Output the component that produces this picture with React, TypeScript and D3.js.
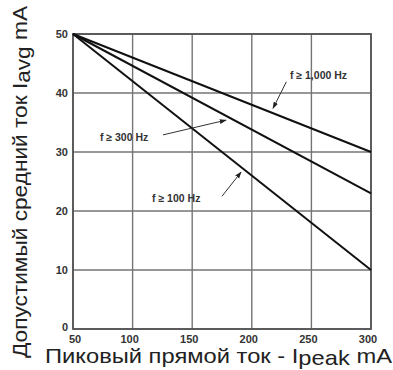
import React from "react";
import * as d3 from "d3";

const xTicks = [50, 100, 150, 200, 250, 300];
const yTicks = [0, 10, 20, 30, 40, 50];
const peakCurrent = [50, 300];
const seriesNames = ["f ≥ 1,000 Hz", "f ≥ 300 Hz", "f ≥ 100 Hz"];
const avgF1000 = [50, 30];
const avgF300 = [50, 23];
const avgF100 = [50, 10];

// annotation anchors in data units: [labelX, labelY, arrowFromX, arrowFromY, arrowToX, arrowToY]
const annotations: number[][] = [
  [232, 42.4, 229, 41.9, 217.8, 37.4],
  [72.6, 31.9, 125.5, 32.9, 178.4, 35.4],
  [116.3, 21.5, 175, 22.5, 191, 26.6],
];

export default function App() {
  const W = 393, H = 370;
  const x = d3.scaleLinear().domain([50, 300]).range([73, 371]);
  const y = d3.scaleLinear().domain([0, 50]).range([329, 34]);
  const series = [avgF1000, avgF300, avgF100];
  const line = d3
    .line<number>()
    .x((_, i) => x(peakCurrent[i]))
    .y((d) => y(d));
  const tickFont = "'Liberation Sans Narrow', 'Liberation Sans', Arial, sans-serif";
  const grid = "#757575";
  return (
    <svg
      width={W}
      height={H}
      viewBox={`0 0 ${W} ${H}`}
      style={{ position: "absolute", left: 0, top: 0, background: "#fff" }}
    >
      <defs>
        <marker
          id="ah"
          viewBox="0 0 10 10"
          refX="9"
          refY="5"
          markerWidth="7"
          markerHeight="7"
          orient="auto"
        >
          <path d="M0,1.5 L10,5 L0,8.5 z" fill="#222" />
        </marker>
      </defs>
      {/* grid */}
      {xTicks.map((t) => (
        <line key={"gx" + t} x1={x(t)} x2={x(t)} y1={y(0)} y2={y(50)} stroke={grid} strokeWidth={1.4} />
      ))}
      {yTicks.map((t) => (
        <line key={"gy" + t} x1={x(50)} x2={x(300)} y1={y(t)} y2={y(t)} stroke={grid} strokeWidth={1.4} />
      ))}
      <rect x={x(50)} y={y(50)} width={x(300) - x(50)} height={y(0) - y(50)} fill="none" stroke="#555" strokeWidth={1.8} />
      {/* series */}
      {series.map((s, i) => (
        <path key={"s" + i} d={line(s) || ""} fill="none" stroke="#111" strokeWidth={2} />
      ))}
      {/* annotations */}
      {annotations.map((a, i) => (
        <g key={"a" + i}>
          <line
            x1={x(a[2])}
            y1={y(a[3])}
            x2={x(a[4])}
            y2={y(a[5])}
            stroke="#333"
            strokeWidth={1}
            markerEnd="url(#ah)"
          />
          <text
            x={x(a[0])}
            y={y(a[1])}
            fontFamily={tickFont}
            fontWeight="bold"
            fontSize={10.5}
            fill="#333"
          >
            {seriesNames[i]}
          </text>
        </g>
      ))}
      {/* y tick labels */}
      {yTicks.map((t) => (
        <text
          key={"yl" + t}
          x={68}
          y={y(t) + (t === 0 ? -2 : 0)}
          textAnchor="end"
          dominantBaseline="central"
          fontFamily={tickFont}
          fontWeight="bold"
          fontSize={11}
          fill="#333"
        >
          {t}
        </text>
      ))}
      {/* x tick labels */}
      {xTicks.map((t) => (
        <text
          key={"xl" + t}
          x={x(t) + (t === 50 ? 2 : -3)}
          y={339}
          textAnchor="middle"
          dominantBaseline="central"
          fontFamily={tickFont}
          fontWeight="bold"
          fontSize={11}
          fill="#333"
        >
          {t}
        </text>
      ))}
      {/* x title */}
      <text
        x={45}
        y={363}
        fontFamily="'Liberation Sans', Arial, sans-serif"
        fontSize={21}
        fill="#222"
        textLength={347}
        lengthAdjust="spacingAndGlyphs"
      >
        Пиковый прямой ток - I
        <tspan dy={2}>peak</tspan>
        <tspan dy={-2}> mA</tspan>
      </text>
      {/* y title */}
      <text
        transform="translate(27,358) rotate(-90)"
        x={0}
        y={0}
        fontFamily="'Liberation Sans', Arial, sans-serif"
        fontSize={20}
        fill="#222"
        textLength={352}
        lengthAdjust="spacingAndGlyphs"
      >
        Допустимый средний ток I
        <tspan dy={3}>avg</tspan>
        <tspan dy={-3}> mA</tspan>
      </text>
    </svg>
  );
}
